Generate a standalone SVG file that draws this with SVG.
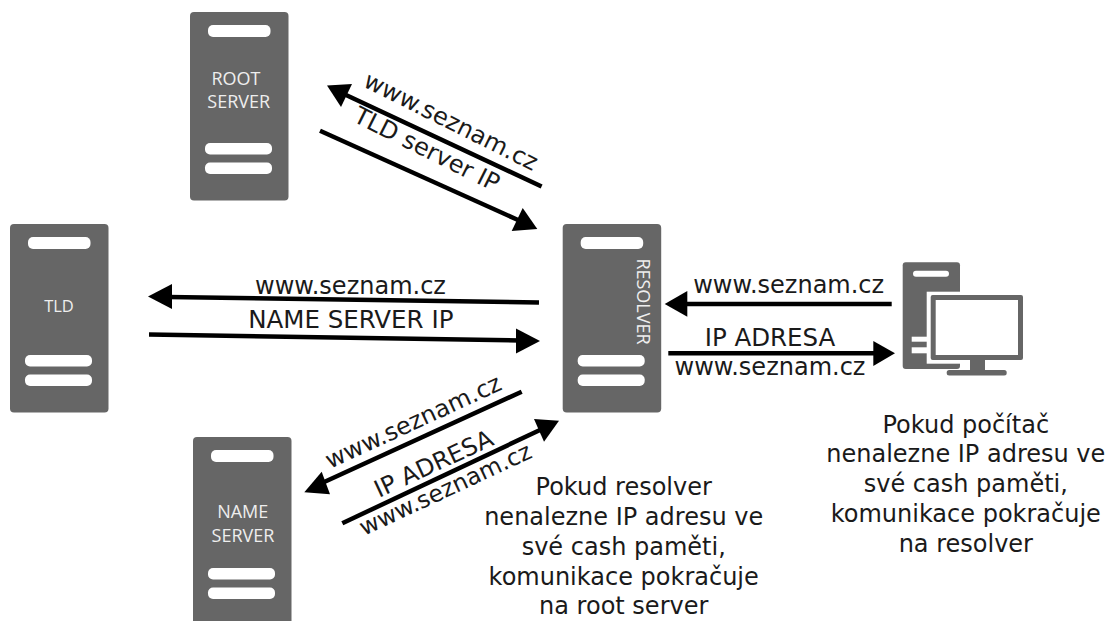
<svg xmlns="http://www.w3.org/2000/svg" width="1114" height="621" viewBox="0 0 1114 621">
<style>
.b{fill:#666}.w{fill:#fff}
.s{font-family:"Open Sans","Liberation Sans",sans-serif;font-size:18px;fill:#eee;text-anchor:middle}
.t{font-family:"DejaVu Sans",Verdana,sans-serif;font-size:24px;fill:#1a1a1a}
.u{font-size:24.500px}
.m{text-anchor:middle}
.c{stroke:#000;stroke-width:4.500;fill:none}
.h{fill:#000}
</style>
<defs>
<g id="srv"><rect class="b" width="98.500" height="188.500" rx="4"/><rect class="w" x="18" y="13" width="62.500" height="12" rx="5"/><rect class="w" x="15" y="131" width="67" height="11.500" rx="5"/><rect class="w" x="15" y="150.500" width="67" height="11.500" rx="5"/></g>
</defs>
<rect width="1114" height="621" fill="#fff"/>
<g id="connectors">
<path class="c" d="M541.600 186.500L346 95"/><polygon class="h" points="327,85.500 352,84 341,107"/>
<path class="c" d="M320 130.700L518 220"/><polygon class="h" points="537.300,229 522.700,208 511.700,231"/>
<path class="c" d="M539 302.500L168 297"/><polygon class="h" points="148,296.500 172,284 172,309"/>
<path class="c" d="M149 334.500L520 340.500"/><polygon class="h" points="540,341 516,328.500 516,353.500"/>
<path class="c" d="M521.700 391.700L322 483"/><polygon class="h" points="304.300,492.300 321.700,471.700 330,494.300"/>
<path class="c" d="M342.300 523.300L540 430"/><polygon class="h" points="559,420.700 534,419 544,441.700"/>
<path class="c" d="M891.700 304H684"/><polygon class="h" points="664.700,304 687.300,291 687.300,316.700"/>
<path class="c" d="M668.300 353.300H876"/><polygon class="h" points="895,353.300 873.300,341 873.300,366"/>
</g>
<g id="root-server"><use href="#srv" x="190" y="12"/><text class="s" x="236" y="85">ROOT</text><text class="s" x="238.700" y="108">SERVER</text></g>
<g id="tld"><use href="#srv" x="10" y="224"/><text class="s" x="59" y="312" style="font-size:16.500px">TLD</text></g>
<g id="name-server"><use href="#srv" x="193" y="437"/><text class="s" x="242.700" y="518">NAME</text><text class="s" x="243" y="541.700">SERVER</text></g>
<g id="resolver"><use href="#srv" x="562.700" y="224"/><text class="s" transform="translate(637 301.500) rotate(90)" x="0" y="0">RESOLVER</text></g>
<g id="computer">
<rect class="b" x="902.700" y="262.300" width="57.300" height="106.700" rx="3"/>
<rect class="w" x="913" y="270.700" width="36" height="6" rx="3"/>
<rect class="w" x="911.700" y="336.700" width="20" height="5"/><rect class="w" x="911.700" y="347.300" width="20" height="6"/>
<rect class="w" x="926.700" y="291.700" width="100" height="72"/>
<rect class="b" x="930.700" y="295" width="92.300" height="65" rx="2"/>
<rect class="w" x="935.700" y="300" width="82.300" height="55"/>
<rect class="b" x="970" y="360" width="15" height="12"/>
<rect class="b" x="946.700" y="370" width="60" height="5.500" rx="2.500"/>
</g>
<g id="labels">
<text class="t" transform="translate(362 86) rotate(26.500)">www.seznam.cz</text>
<text class="t" transform="translate(352 121) rotate(26.500)">TLD server IP</text>
<text class="t m" x="350.500" y="294.300">www.seznam.cz</text>
<text class="t m u" x="350.800" y="328.300">NAME SERVER IP</text>
<text class="t" transform="translate(330 469) rotate(-24.800)">www.seznam.cz</text>
<text class="t" transform="translate(379 498) rotate(-24.800)">IP ADRESA</text>
<text class="t" transform="translate(364 536) rotate(-25)" style="font-size:23.500px">www.seznam.cz</text>
<text class="t m" x="788.700" y="293.300">www.seznam.cz</text>
<text class="t m u" x="770" y="345.700">IP ADRESA</text>
<text class="t m" x="770" y="375">www.seznam.cz</text>
<text class="t m" x="623.700" y="495">Pokud resolver</text>
<text class="t m" x="623.700" y="525">nenalezne IP adresu ve</text>
<text class="t m" x="623.700" y="555">své cash paměti,</text>
<text class="t m" x="623.700" y="584.500">komunikace pokračuje</text>
<text class="t m" x="623.700" y="613.500">na root server</text>
<text class="t m" x="965.800" y="432.700">Pokud počítač</text>
<text class="t m" x="965.800" y="462">nenalezne IP adresu ve</text>
<text class="t m" x="965.800" y="492">své cash paměti,</text>
<text class="t m" x="965.800" y="522">komunikace pokračuje</text>
<text class="t m" x="965.800" y="551.500">na resolver</text>
</g>
</svg>
